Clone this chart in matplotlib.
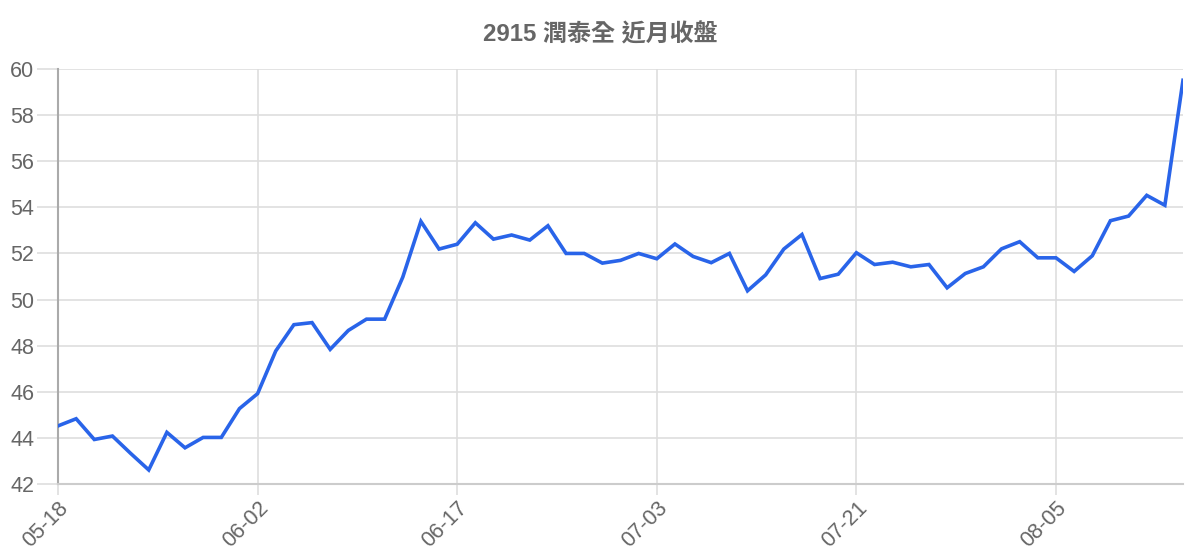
import matplotlib
matplotlib.use("Agg")
import matplotlib.pyplot as plt
from matplotlib.ticker import FixedLocator, MultipleLocator

plt.rcParams['font.family'] = ['Liberation Sans', 'Noto Sans CJK TC', 'DejaVu Sans']

title = "2915 潤泰全 近月收盤"
tick_dates = ["05-18", "06-02", "06-17", "07-03", "07-21", "08-05"]
tick_index = [0, 11, 22, 33, 44, 55]
closes = [
    44.52, 44.83, 43.93, 44.08, 43.33, 42.61, 44.24, 43.57, 44.02, 44.02,
    45.27, 45.92, 47.77, 48.91, 49.00, 47.84, 48.66, 49.15, 49.15, 50.97,
    53.39, 52.19, 52.40, 53.33, 52.62, 52.80, 52.58, 53.20, 52.00, 52.00,
    51.58, 51.70, 52.00, 51.77, 52.41, 51.87, 51.60, 52.00, 50.38, 51.07,
    52.19, 52.82, 50.91, 51.10, 52.03, 51.52, 51.62, 51.42, 51.52, 50.51,
    51.13, 51.42, 52.20, 52.51, 51.81, 51.81, 51.22, 51.90, 53.42, 53.62,
    54.52, 54.09, 59.51,
]

fig = plt.figure(figsize=(12, 5.6), dpi=100)
ax = fig.add_axes([58/1200, 1-484/560, (1183-58)/1200, (484-69)/560])

x = list(range(len(closes)))
ax.plot(x, closes, color="#2964e9", lw=2.6, solid_joinstyle="miter", zorder=3)

ax.set_xlim(0, len(closes) - 1)
ax.set_ylim(42, 60)
ax.yaxis.set_major_locator(MultipleLocator(2))
ax.xaxis.set_major_locator(FixedLocator(tick_index))
ax.set_xticklabels(tick_dates)

ax.grid(True, color="#dedede", lw=1.2, zorder=0)
for s in ["top", "right"]:
    ax.spines[s].set_visible(False)
ax.spines["left"].set_color("#aaaaaa")
ax.spines["left"].set_linewidth(1.5)
ax.spines["bottom"].set_color("#cccccc")
ax.spines["bottom"].set_linewidth(1.5)

ax.tick_params(axis="y", length=15, width=1.2, color="#dedede", labelsize=15.5,
               labelcolor="#666666", pad=2)
ax.tick_params(axis="x", length=8, width=1.2, color="#dedede", labelsize=15.5,
               labelcolor="#666666", pad=2)
for lab in ax.get_xticklabels():
    lab.set_rotation(45)
    lab.set_ha("right")
    lab.set_va("top")
    lab.set_rotation_mode("anchor")

fig.text(0.5, 1 - 35/560, title, ha="center", va="center", fontsize=17.3,
         fontweight="bold", color="#666666")

fig.savefig("out.png", dpi=100, facecolor="white")
